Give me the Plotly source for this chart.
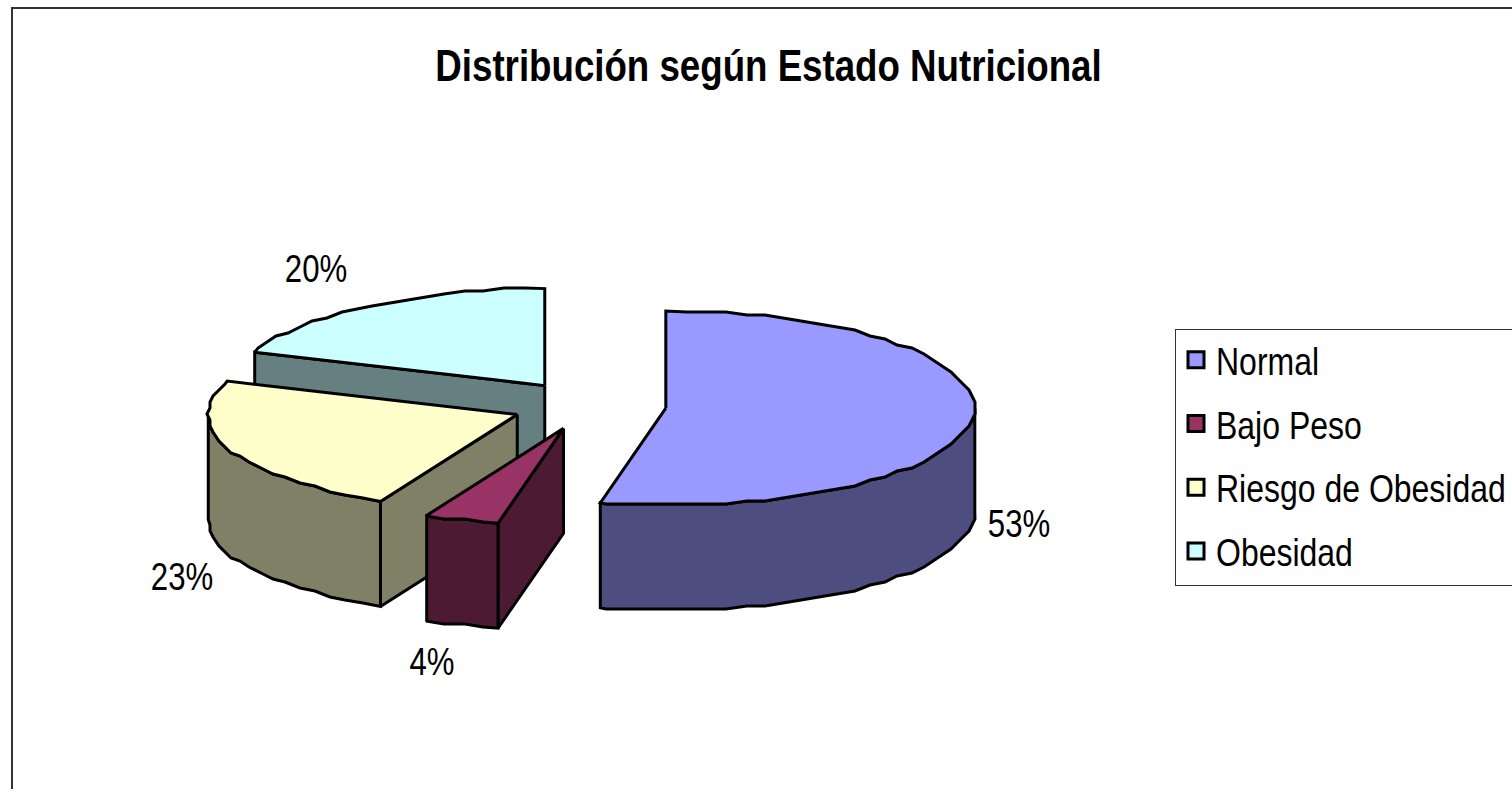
import math
import plotly.graph_objects as go

# Data
categories = ["Normal", "Bajo Peso", "Riesgo de Obesidad", "Obesidad"]
shares = [53.4, 3.9, 23.3, 19.4]
labels = ["53%", "4%", "23%", "20%"]
top_colors = ["#9999FF", "#993366", "#FFFFCC", "#CCFFFF"]
wall_colors = ["#4D4D80", "#4D1A33", "#808066", "#667F80"]

# Projection of the exploded 3-D pie, in page pixels
CX, CY = 589.0, 405.5
RX, RY = 309.0, 97.0
DEPTH = 105.0
EXPLODE = 0.25
W, H = 1512, 789
FONT = "Liberation Sans, Arial, sans-serif"
LINE = dict(color="#000000", width=3, simplify=False)
label_pos = [(1019, 527.5), (432, 665.5), (182, 580.5), (316, 272.5)]
STEP = 2 * math.pi / 96


def project(t, c):
    return c[0] + RX * math.sin(t), c[1] - RY * math.cos(t)


def arc(t0, t1, c):
    # angles on a common grid, so that rim and top surface share their vertices
    ts = [t0]
    k = math.floor(t0 / STEP) + 1
    while k * STEP < t1 - 1e-6:
        if k * STEP > t0 + 1e-6:
            ts.append(k * STEP)
        k += 1
    ts.append(t1)
    pts = []
    for i, t in enumerate(ts):
        x, y = project(t, c)
        if 0 < i < len(ts) - 1:  # stair-stepped outline of the low resolution original
            x, y = round(x / 3) * 3, round(y / 3) * 3
        pts.append((x, y))
    return pts


def poly(fig, pts, color):
    xs = [p[0] for p in pts] + [pts[0][0]]
    ys = [p[1] for p in pts] + [pts[0][1]]
    fig.add_trace(go.Scatter(x=xs, y=ys, mode="lines", fill="toself", fillcolor=color,
                             line=LINE, showlegend=False, hoverinfo="skip"))


def shifted(pts):
    return [(x, y + DEPTH) for x, y in pts]


fig = go.Figure()

# Angular extent of every slice
bounds = []
acc = 0.0
total = sum(shares)
for s in shares:
    t0 = acc / total * 2 * math.pi
    acc += s
    bounds.append((t0, acc / total * 2 * math.pi))

# Paint back to front
for i in [3, 2, 1, 0]:
    t0, t1 = bounds[i]
    m = (t0 + t1) / 2
    c = (CX + EXPLODE * RX * math.sin(m), CY - EXPLODE * RY * math.cos(m))
    # cut face at the start of the slice, visible when it faces the viewer
    if t0 > math.pi:
        p = project(t0, c)
        poly(fig, [c, p, (p[0], p[1] + DEPTH), (c[0], c[1] + DEPTH)], wall_colors[i])
    # outer wall: the part of the rim on the viewer's side
    a0, a1 = max(t0, math.pi / 2), min(t1, 1.5 * math.pi)
    if a1 > a0:
        rim = arc(a0, a1, c)
        poly(fig, rim + shifted(rim)[::-1], wall_colors[i])
    # top surface
    poly(fig, [c] + arc(t0, t1, c), top_colors[i])

# Legend entries
for name, col in zip(categories, top_colors):
    fig.add_trace(go.Scatter(x=[None], y=[None], mode="markers", name=name, legendgroup=name,
                             marker=dict(symbol="square", size=16, color=col,
                                         line=dict(color="#000000", width=3))))

# Percent labels
fig.add_trace(go.Scatter(x=[p[0] for p in label_pos], y=[p[1] for p in label_pos], mode="text",
                         text=labels, textposition="middle center",
                         textfont=dict(family=FONT, size=38, color="#000000"),
                         showlegend=False, hoverinfo="skip"))

fig.update_layout(
    width=W, height=H, margin=dict(l=0, r=0, t=0, b=0, autoexpand=False),
    paper_bgcolor="#FFFFFF", plot_bgcolor="#FFFFFF", hovermode=False,
    title=dict(text="Distribución según Estado Nutricional",
               x=768.5 / W, xanchor="center", xref="paper",
               y=1 - 65 / H, yanchor="middle", yref="paper",
               font=dict(family=FONT, size=45, color="#000000", weight="bold")),
    xaxis=dict(range=[0, W], visible=False, fixedrange=True),
    yaxis=dict(range=[H, 0], visible=False, fixedrange=True),
    legend=dict(x=1175 / W, xanchor="left", y=1 - 329 / H, yanchor="top",
                font=dict(family=FONT, size=39, color="#000000"),
                bordercolor="#333333", borderwidth=1, bgcolor="#FFFFFF",
                tracegroupgap=10, traceorder="grouped",
                entrywidth=300, entrywidthmode="pixels"),
    shapes=[dict(type="rect", xref="x", yref="y", x0=12, y0=8, x1=W + 20, y1=H + 20,
                 line=dict(color="#333333", width=2), layer="below")],
)

# Page without margins; the original text is horizontally condensed Arial
post = """
document.documentElement.style.overflow='hidden';
document.body.style.margin='0';
var gd=document.querySelector('.plotly-graph-div');
gd.querySelectorAll('.gtitle, .legendtext, .textpoint text').forEach(function(t){
  t.setAttribute('textLength', t.getComputedTextLength()*(t.classList.contains('gtitle')?0.815:0.82));
  t.setAttribute('lengthAdjust','spacingAndGlyphs');
});
var sb=gd.querySelector('.legend .scrollbox');
if(sb){sb.setAttribute('transform','translate(0,-2)');}
"""
fig.write_html("out.html", config=dict(displayModeBar=False), post_script=post)
